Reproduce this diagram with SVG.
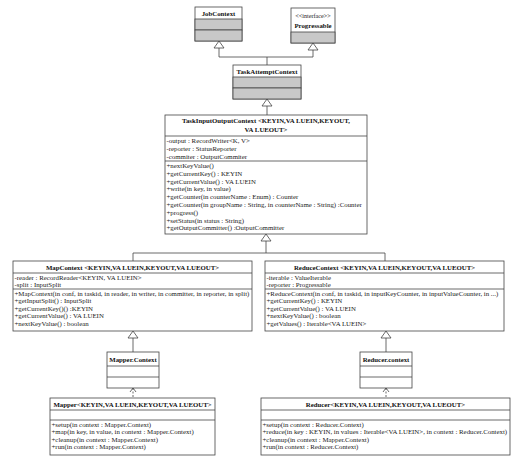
<svg xmlns="http://www.w3.org/2000/svg" width="515" height="458" viewBox="0 0 515 458">
<style>
.box{fill:#fff;stroke:#444;stroke-width:0.8}
.gray{fill:#c8c8c8;stroke:#444;stroke-width:0.8}
.sep{stroke:#444;stroke-width:0.8}
.t{font-family:"Liberation Serif","Times New Roman",serif;font-size:6.85px;fill:#222}
.h{font-family:"Liberation Serif","Times New Roman",serif;font-size:6.8px;font-weight:bold;fill:#111;text-anchor:middle}
.st{font-family:"Liberation Serif","Times New Roman",serif;font-size:6.2px;fill:#222;text-anchor:middle}
.ln{fill:none;stroke:#444;stroke-width:0.8}
.tri{fill:#fff;stroke:#444;stroke-width:0.8}
.dash{fill:none;stroke:#444;stroke-width:0.8;stroke-dasharray:2,1.5}
</style>
<rect width="515" height="458" fill="#fff"/>
<g id="connectors">
<polyline class="ln" points="219,48 219,57 313,57 313,50"/>
<line class="ln" x1="267" y1="57" x2="267" y2="65"/>
<polygon class="tri" points="219,41 214,48 224,48"/>
<polygon class="tri" points="313,43 308,50 318,50"/>
<line class="ln" x1="267" y1="106" x2="267" y2="115"/>
<polygon class="tri" points="267,99 262,106 272,106"/>
<polyline class="ln" points="133,261 133,253 385,253 385,261"/>
<line class="ln" x1="266" y1="241" x2="266" y2="253"/>
<polygon class="tri" points="266,234 261,241 271,241"/>
<line class="ln" x1="133" y1="338" x2="133" y2="352"/>
<polygon class="tri" points="133,331 128,338 138,338"/>
<line class="ln" x1="386" y1="338" x2="386" y2="352"/>
<polygon class="tri" points="386,331 381,338 391,338"/>
<line class="dash" x1="133" y1="388" x2="133" y2="398"/>
<polyline class="ln" points="130,392 133,388 136,392"/>
<line class="dash" x1="386" y1="388" x2="386" y2="398"/>
<polyline class="ln" points="383,392 386,388 389,392"/>
</g>
<g id="JobContext">
<rect class="box" x="195" y="7" width="47" height="34"/>
<rect class="gray" x="195" y="19" width="47" height="11"/>
<rect class="gray" x="195" y="30" width="47" height="11"/>
<text class="h" x="218.5" y="15.5">JobContext</text>
</g>
<g id="Progressable">
<rect class="box" x="291" y="8" width="44" height="35"/>
<rect class="gray" x="291" y="32" width="44" height="11"/>
<text class="st" x="313" y="18">&lt;&lt;interface&gt;&gt;</text>
<text class="h" x="313" y="28">Progressable</text>
</g>
<g id="TaskAttemptContext">
<rect class="box" x="233" y="65" width="68" height="34"/>
<rect class="gray" x="233" y="77" width="68" height="11"/>
<rect class="gray" x="233" y="88" width="68" height="11"/>
<text class="h" x="267" y="73.5">TaskAttemptContext</text>
</g>
<g id="TaskInputOutputContext">
<rect class="box" x="165" y="115" width="202" height="119"/>
<line class="sep" x1="165" y1="136" x2="367" y2="136"/>
<line class="sep" x1="165" y1="161" x2="367" y2="161"/>
<text class="h" x="266" y="123">TaskInputOutputContext &lt;KEYIN,VA LUEIN,KEYOUT,</text>
<text class="h" x="266" y="132">VA LUEOUT&gt;</text>
<text class="t" x="166.5" y="143">-output : RecordWriter&lt;K, V&gt;</text>
<text class="t" x="166.5" y="151">-reporter : StatusReporter</text>
<text class="t" x="166.5" y="159">-commiter : OutputCommiter</text>
<text class="t" x="166.5" y="168">+nextKeyValue()</text>
<text class="t" x="166.5" y="175.8">+getCurrentKey() : KEYIN</text>
<text class="t" x="166.5" y="183.6">+getCurrentValue() : VA LUEIN</text>
<text class="t" x="166.5" y="191.4">+write(in key, in value)</text>
<text class="t" x="166.5" y="199.2">+getCounter(in counterName : Enum) : Counter</text>
<text class="t" x="166.5" y="207">+getCounter(in groupName : String, in counterName : String) :Counter</text>
<text class="t" x="166.5" y="214.8">+progress()</text>
<text class="t" x="166.5" y="222.6">+setStatus(in status : String)</text>
<text class="t" x="166.5" y="230.4">+getOutputCommitter() :OutputCommitter</text>
</g>
<g id="MapContext">
<rect class="box" x="13" y="261" width="239" height="70"/>
<line class="sep" x1="13" y1="273" x2="252" y2="273"/>
<line class="sep" x1="13" y1="289" x2="252" y2="289"/>
<text class="h" x="132.5" y="269.5">MapContext &lt;KEYIN,VA LUEIN,KEYOUT,VA LUEOUT&gt;</text>
<text class="t" x="14.5" y="279.5">-reader : RecordReader&lt;KEYIN, VA LUEIN&gt;</text>
<text class="t" x="14.5" y="287">-split : InputSplit</text>
<text class="t" x="14.5" y="295.5">+MapContext(in conf, in taskid, in reader, in writer, in committer, in reporter, in split)</text>
<text class="t" x="14.5" y="303">+getInputSplit() : InputSplit</text>
<text class="t" x="14.5" y="310.5">+getCurrentKey()() :KEYIN</text>
<text class="t" x="14.5" y="318">+getCurrentValue() : VA LUEIN</text>
<text class="t" x="14.5" y="325.5">+nextKeyValue() : boolean</text>
</g>
<g id="ReduceContext">
<rect class="box" x="265" y="261" width="239" height="70"/>
<line class="sep" x1="265" y1="273" x2="504" y2="273"/>
<line class="sep" x1="265" y1="289" x2="504" y2="289"/>
<text class="h" x="384.5" y="269.5">ReduceContext &lt;KEYIN,VA LUEIN,KEYOUT,VA LUEOUT&gt;</text>
<text class="t" x="266.5" y="279.5">-iterable : ValueIterable</text>
<text class="t" x="266.5" y="287">-reporter : Progressable</text>
<text class="t" x="266.5" y="295.5">+ReduceContext(in conf, in taskid, in inputKeyCounter, in inputValueCounter, in ...)</text>
<text class="t" x="266.5" y="303">+getCurrentKey() : KEYIN</text>
<text class="t" x="266.5" y="310.5">+getCurrentValue() : VA LUEIN</text>
<text class="t" x="266.5" y="318">+nextKeyValue() : boolean</text>
<text class="t" x="266.5" y="325.5">+getValues() : Iterable&lt;VA LUEIN&gt;</text>
</g>
<g id="MapperContext">
<rect class="box" x="107" y="352" width="52" height="36"/>
<line class="sep" x1="107" y1="366" x2="159" y2="366"/>
<line class="sep" x1="107" y1="377" x2="159" y2="377"/>
<text class="h" x="133" y="361.5">Mapper.Context</text>
</g>
<g id="ReducerContext">
<rect class="box" x="360" y="352" width="52" height="36"/>
<line class="sep" x1="360" y1="366" x2="412" y2="366"/>
<line class="sep" x1="360" y1="377" x2="412" y2="377"/>
<text class="h" x="386" y="361.5">Reducer.context</text>
</g>
<g id="Mapper">
<rect class="box" x="50" y="398" width="165" height="57"/>
<line class="sep" x1="50" y1="410" x2="215" y2="410"/>
<line class="sep" x1="50" y1="420" x2="215" y2="420"/>
<text class="h" x="132.5" y="406.5">Mapper&lt;KEYIN,VA LUEIN,KEYOUT,VA LUEOUT&gt;</text>
<text class="t" x="51.5" y="426.5">+setup(in context : Mapper.Context)</text>
<text class="t" x="51.5" y="434">+map(in key, in value, in context : Mapper.Context)</text>
<text class="t" x="51.5" y="441.5">+cleanup(in context : Mapper.Context)</text>
<text class="t" x="51.5" y="449">+run(in context : Mapper.Context)</text>
</g>
<g id="Reducer">
<rect class="box" x="261" y="398" width="249" height="57"/>
<line class="sep" x1="261" y1="410" x2="510" y2="410"/>
<line class="sep" x1="261" y1="420" x2="510" y2="420"/>
<text class="h" x="385.5" y="406.5">Reducer&lt;KEYIN,VA LUEIN,KEYOUT,VA LUEOUT&gt;</text>
<text class="t" x="262.5" y="426.5">+setup(in context : Reducer.Context)</text>
<text class="t" x="262.5" y="434">+reduce(in key : KEYIN, in values : Iterable&lt;VA LUEIN&gt;, in context : Reducer.Context)</text>
<text class="t" x="262.5" y="441.5">+cleanup(in context : Mapper.Context)</text>
<text class="t" x="262.5" y="449">+run(in context : Reducer.Context)</text>
</g>
</svg>
